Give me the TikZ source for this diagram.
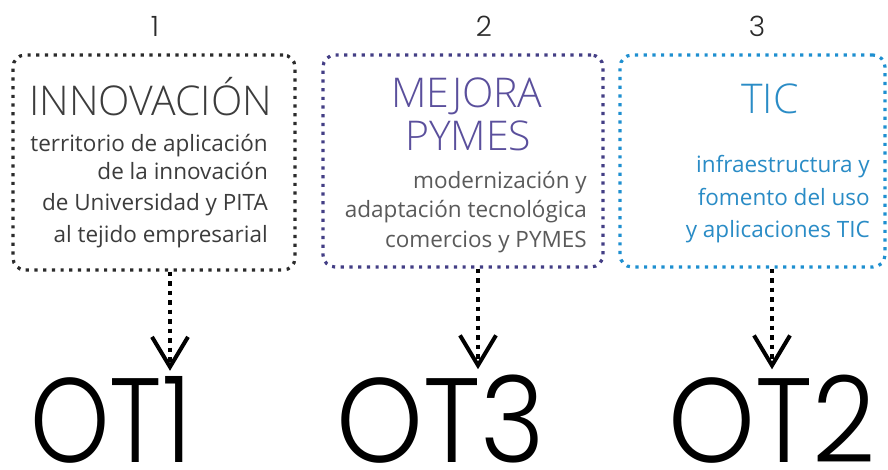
\documentclass[tikz,border=0pt]{standalone}
\usepackage{fontspec}
\setmainfont{Open Sans}
\newfontfamily\lightfont{Open Sans}[UprightFont={* Light}]
\newfontfamily\geofont{Poppins}[UprightFont={* Light}]
\usetikzlibrary{arrows.meta}
\definecolor{ink}{HTML}{2B2B2B}
\definecolor{inktext}{HTML}{3C3C3C}
\definecolor{purp}{HTML}{433E85}
\definecolor{purptext}{HTML}{5A4F9C}
\definecolor{cyanb}{HTML}{1E8FD0}
\definecolor{cyantext}{HTML}{2A8CC6}
\definecolor{graytext}{HTML}{5A5A5A}
\begin{document}
\begin{tikzpicture}[x=1pt,y=-1pt,
  dotbox/.style={draw, line width=3.2pt, dash pattern=on 3.2pt off 5.5pt, rounded corners=12pt, inner sep=0pt},
  ttl/.style={inner sep=0pt, font=\lightfont\fontsize{41}{48}\selectfont},
  bodytxt/.style={inner sep=0pt, font=\fontsize{22.5}{27}\selectfont},
  num/.style={inner sep=0pt, font=\geofont\fontsize{28}{32}\selectfont, text=ink},
  ot/.style={inner sep=0pt, font=\geofont\fontsize{120}{124}\selectfont, text=black},
  arr/.style={draw=black, line width=4.5pt, dash pattern=on 4.5pt off 5pt,
    -{Straight Barb[length=30pt, width=36pt, line width=4pt]}, shorten >=5pt}
]
\useasboundingbox (0,0) rectangle (888,469);
\fill[white] (0,0) rectangle (888,469);

% boxes
\node[dotbox, draw=ink, minimum width=282pt, minimum height=215pt] (b1) at (154,162.5) {};
\node[dotbox, draw=purp, minimum width=280pt, minimum height=212pt] (b2) at (463,161) {};
\node[dotbox, draw=cyanb, minimum width=265pt, minimum height=212pt] (b3) at (752.5,161) {};

% numbers
\node[num, anchor=base] (n1) at (155,36) {1};
\node[num, anchor=base] (n2) at (484,36) {2};
\node[num, anchor=base] (n3) at (757,36) {3};

% box 1 text
\node[ttl, text=inktext, anchor=base west] (t1) at (29,115) {INNOVACIÓN};
\node[bodytxt, text=inktext, anchor=base east] (t1a) at (268,151) {territorio de aplicación};
\node[bodytxt, text=inktext, anchor=base east] (t1b) at (268,179) {de la innovación};
\node[bodytxt, text=inktext, anchor=base east] (t1c) at (268,210) {de Universidad y PITA};
\node[bodytxt, text=inktext, anchor=base east] (t1d) at (268,242) {al tejido empresarial};

% box 2 text
\node[ttl, text=purptext, anchor=base] (t2) at (467,107) {MEJORA};
\node[ttl, text=purptext, anchor=base] (t2p) at (468,150) {PYMES};
\node[bodytxt, text=graytext, anchor=base east] (t2a) at (587,188) {modernización y};
\node[bodytxt, text=graytext, anchor=base east] (t2b) at (587,217) {adaptación tecnológica};
\node[bodytxt, text=graytext, anchor=base east] (t2c) at (587,247) {comercios y PYMES};

% box 3 text
\node[ttl, text=cyantext, anchor=base] (t3) at (770,113) {TIC};
\node[bodytxt, text=cyantext, anchor=base east] (t3a) at (870,172) {infraestructura y};
\node[bodytxt, text=cyantext, anchor=base east] (t3b) at (870,205) {fomento del uso};
\node[bodytxt, text=cyantext, anchor=base east] (t3c) at (870,237) {y aplicaciones TIC};

% OT labels
\node[ot, anchor=base west] (ot1) at (30,462) {\scalebox{0.84}[1]{OT1}};
\node[ot, anchor=base west] (ot3) at (336,462) {\scalebox{0.92}[1]{OT3}};
\node[ot, anchor=base west] (ot2) at (668,462) {\scalebox{0.92}[1]{OT2}};

% arrows
\draw[arr] ([xshift=16pt]b1.south) -- ([xshift=16pt]b1.south |- ot1.north);
\draw[arr] ([xshift=15pt]b2.south) -- ([xshift=15pt]b2.south |- ot3.north);
\draw[arr] ([xshift=19.5pt]b3.south) -- ([xshift=19.5pt]b3.south |- ot2.north);
\end{tikzpicture}
\end{document}
